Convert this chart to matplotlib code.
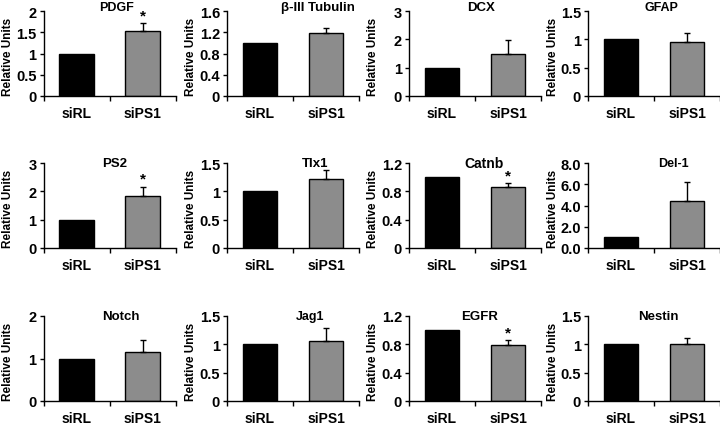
import matplotlib
matplotlib.use('Agg')
import matplotlib.pyplot as plt
from matplotlib.ticker import FixedLocator

plt.rcParams['font.family'] = ['Liberation Sans', 'DejaVu Sans']
plt.rcParams['font.weight'] = 'bold'

# ---------------- data ----------------
genes = ['PDGF', 'β-III Tubulin', 'DCX', 'GFAP',
         'PS2', 'Tlx1', 'Catnb', 'Del-1',
         'Notch', 'Jag1', 'EGFR', 'Nestin']
conditions = ['siRL', 'siPS1']
siRL_values = [1.0, 1.0, 1.0, 1.0, 1.0, 1.0, 1.0, 1.0, 1.0, 1.0, 1.0, 1.0]
siPS1_values = [1.52, 1.19, 1.48, 0.95, 1.84, 1.22, 0.86, 4.38, 1.16, 1.06, 0.79, 1.01]
siPS1_errors = [0.20, 0.09, 0.48, 0.16, 0.33, 0.15, 0.055, 1.80, 0.27, 0.22, 0.07, 0.10]
significant = [True, False, False, False, True, False, True, False, False, False, True, False]
yticks = [
    [0, 0.5, 1, 1.5, 2],
    [0, 0.4, 0.8, 1.2, 1.6],
    [0, 1, 2, 3],
    [0, 0.5, 1, 1.5],
    [0, 1, 2, 3],
    [0, 0.5, 1, 1.5],
    [0, 0.4, 0.8, 1.2],
    [0, 2, 4, 6, 8],
    [0, 1, 2],
    [0, 0.5, 1, 1.5],
    [0, 0.4, 0.8, 1.2],
    [0, 0.5, 1, 1.5],
]
ytick_format = ['g', 'g', 'g', 'g', 'g', 'g', 'g', '.1f', 'g', 'g', 'g', 'g']
ylabel = 'Relative Units'

# ---------------- layout (pixels) ----------------
W, H = 720, 431
col_left = [43.5, 227, 409, 588]
ax_w = 132
row_top = [12, 164, 317]
ax_h = 85
title_dx = [72.5, 91, 72.5, 73, 71, 88, 75, 85, 77.5, 83, 71, 70]
title_size = [9, 9.5, 9.5, 9, 9.5, 9.5, 10, 9, 9.5, 9, 9.5, 9.5]
title_dy = [4, 4, 4, 4, 0, 0, 0, 0, 0, 0, 0, 0]

bar_color = ['#000000', '#8c8c8c']

fig = plt.figure(figsize=(W / 100, H / 100), dpi=100)

for i, gene in enumerate(genes):
    r, c = divmod(i, 4)
    l = col_left[c]
    t = row_top[r]
    ax = fig.add_axes([l / W, 1 - (t + ax_h) / H, ax_w / W, ax_h / H])
    vals = [siRL_values[i], siPS1_values[i]]
    xs = [0, 1]
    ax.bar(xs, vals, width=0.53, color=bar_color, edgecolor='black',
           linewidth=1.0, zorder=2)
    ax.errorbar([1], [siPS1_values[i]], yerr=[[0], [siPS1_errors[i]]],
                fmt='none', ecolor='black', elinewidth=1.0, capsize=2.5,
                capthick=1.0, zorder=3)
    if significant[i]:
        ax.annotate('*', xy=(1, siPS1_values[i] + siPS1_errors[i]),
                    xytext=(0, 0.5), textcoords='offset points',
                    ha='center', va='bottom', fontsize=11, fontweight='bold')
    ax.set_xlim(-0.5, 1.5)
    ax.set_ylim(yticks[i][0], yticks[i][-1])
    ax.set_yticks(yticks[i])
    ax.set_yticklabels([format(v, ytick_format[i]) for v in yticks[i]])
    ax.set_xticks(xs)
    ax.set_xticklabels(conditions)
    ax.xaxis.set_minor_locator(FixedLocator([-0.5, 0.5, 1.5]))
    ax.tick_params(axis='x', which='major', length=0, pad=7, labelsize=10)
    ax.tick_params(axis='x', which='minor', length=3.5, width=1.0, direction='out')
    ax.tick_params(axis='y', which='major', length=3, width=1.0, direction='out',
                   pad=2, labelsize=10.5)
    for s in ['top', 'right']:
        ax.spines[s].set_visible(False)
    for s in ['left', 'bottom']:
        ax.spines[s].set_linewidth(1.0)
        ax.spines[s].set_color('black')
    ax.set_ylabel(ylabel, fontsize=8.5, fontweight='bold')
    ax.yaxis.set_label_coords(-29.5 / ax_w, 0.47)
    fig.text((l + title_dx[i]) / W, 1 - (t - title_dy[i]) / H, gene,
             ha='center', va='center', fontsize=title_size[i], fontweight='bold')

fig.savefig('out.png', dpi=100)
